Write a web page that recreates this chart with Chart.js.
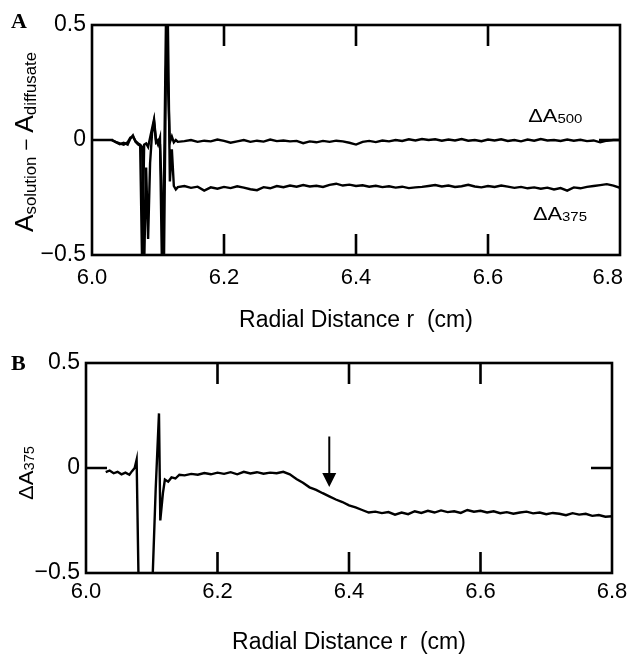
<!DOCTYPE html>
<html>
<head>
<meta charset="utf-8">
<script src="https://cdn.jsdelivr.net/npm/chart.js@4.4.1/dist/chart.umd.min.js"></script>
<style>
  body { margin: 0; background: #fff; }
  #wrap { position: relative; width: 632px; height: 655px; overflow: hidden; }
  canvas { position: absolute; left: 0; }
  #chartA { top: 0; }
  #chartB { top: 340px; }
</style>
</head>
<body>
<div id="wrap">
  <canvas id="chartA" width="632" height="340"></canvas>
  <canvas id="chartB" width="632" height="315"></canvas>
</div>
<script>
// panel A: radial positions (cm) shared by both traces
const rA = [
  6.030, 6.036, 6.042, 6.048, 6.054, 6.058, 6.062, 6.066, 6.070, 6.073,
  6.076, 6.079, 6.082, 6.085, 6.088, 6.091, 6.094, 6.097, 6.100, 6.103,
  6.106, 6.109, 6.112, 6.115, 6.118, 6.121, 6.124, 6.127, 6.130,
  6.14, 6.15, 6.16, 6.17, 6.18, 6.19, 6.20, 6.21, 6.22, 6.23, 6.24, 6.25,
  6.26, 6.27, 6.28, 6.29, 6.30, 6.31, 6.32, 6.33, 6.34, 6.35, 6.36, 6.37,
  6.38, 6.39, 6.40, 6.41, 6.42, 6.43, 6.44, 6.45, 6.46, 6.47, 6.48, 6.49,
  6.50, 6.51, 6.52, 6.53, 6.54, 6.55, 6.56, 6.57, 6.58, 6.59, 6.60, 6.61,
  6.62, 6.63, 6.64, 6.65, 6.66, 6.67, 6.68, 6.69, 6.70, 6.71, 6.72, 6.73,
  6.74, 6.75, 6.76, 6.77, 6.78, 6.79, 6.80
];

const dA500 = [
  0.000, -0.010, -0.018, -0.012, -0.020, 0.005, 0.020, -0.008, -0.020, -0.025,
  -0.550, -0.020, -0.015, -0.030, 0.010, 0.050, 0.090, 0.000, -0.020, 0.010,
  -0.550, -0.200, 0.500, 0.250, -0.010, 0.015, -0.010, 0.000, -0.008,
  -0.005, 0.000, -0.008, -0.003, -0.006, 0.002, -0.004, -0.012, -0.006, 0.000, -0.008, -0.003,
  -0.007, 0.002, -0.005, -0.002, -0.006, -0.004, -0.014, -0.006, -0.010, -0.004, -0.008, -0.003,
  -0.006, -0.012, -0.020, -0.008, -0.004, -0.009, -0.002, -0.006, 0.000, -0.004, 0.003, -0.002,
  0.004, 0.000, 0.003, -0.003, 0.002, -0.002, 0.004, -0.003, 0.000, -0.005, 0.002, -0.002,
  0.003, -0.004, 0.000, -0.006, 0.002, -0.003, 0.004, -0.002, 0.000, -0.004, 0.002, -0.003,
  0.001, -0.005, -0.002, -0.010, -0.003, 0.000, 0.000
];

const dA375 = [
  0.000, -0.008, -0.015, -0.020, -0.010, 0.010, 0.015, -0.005, -0.015, -0.020,
  -0.030, -0.550, -0.120, -0.430, -0.100, 0.030, 0.080, -0.010, 0.000, -0.020,
  -0.250, -0.550, 0.300, 0.500, -0.180, -0.040, -0.200, -0.215, -0.205,
  -0.200, -0.208, -0.203, -0.220, -0.206, -0.212, -0.204, -0.209, -0.201, -0.207, -0.214, -0.218,
  -0.205, -0.210, -0.200, -0.205, -0.198, -0.203, -0.196, -0.202, -0.199, -0.204, -0.195, -0.190,
  -0.198, -0.194, -0.200, -0.197, -0.203, -0.199, -0.205, -0.201, -0.207, -0.203, -0.209, -0.206,
  -0.204, -0.200, -0.196, -0.202, -0.198, -0.204, -0.201, -0.195, -0.202, -0.206, -0.200, -0.204,
  -0.198, -0.203, -0.208, -0.204, -0.210, -0.206, -0.212, -0.207, -0.215, -0.209, -0.220, -0.206,
  -0.210, -0.204, -0.200, -0.196, -0.192, -0.198, -0.208
];

// panel B: radial positions (cm) and the 375 nm difference trace
const rB = [
  6.030, 6.036, 6.042, 6.048, 6.054, 6.060, 6.066, 6.070, 6.074, 6.077,
  6.080, 6.101, 6.106, 6.111, 6.113, 6.117, 6.120, 6.125, 6.130, 6.136, 6.142,
  6.15, 6.16, 6.17, 6.18, 6.19, 6.20, 6.21, 6.22, 6.23, 6.24, 6.25,
  6.26, 6.27, 6.28, 6.29, 6.30, 6.31, 6.32, 6.33, 6.34, 6.35, 6.36, 6.37,
  6.38, 6.39, 6.40, 6.41, 6.42, 6.43, 6.44, 6.45, 6.46, 6.47, 6.48, 6.49,
  6.50, 6.51, 6.52, 6.53, 6.54, 6.55, 6.56, 6.57, 6.58, 6.59, 6.60, 6.61,
  6.62, 6.63, 6.64, 6.65, 6.66, 6.67, 6.68, 6.69, 6.70, 6.71, 6.72, 6.73,
  6.74, 6.75, 6.76, 6.77, 6.78, 6.79, 6.80
];

const dB375 = [
  -0.020, -0.012, -0.025, -0.018, -0.030, -0.022, -0.032, -0.015, 0.000, 0.040,
  -0.550, -0.550, -0.100, 0.260, -0.250, -0.120, -0.055, -0.065, -0.045, -0.050, -0.032,
  -0.035, -0.028, -0.032, -0.024, -0.030, -0.022, -0.028, -0.020, -0.030, -0.018, -0.026,
  -0.020, -0.027, -0.022, -0.025, -0.018, -0.030, -0.052, -0.070, -0.092, -0.104, -0.120, -0.135,
  -0.150, -0.162, -0.178, -0.188, -0.200, -0.212, -0.208, -0.215, -0.210, -0.222, -0.212, -0.220,
  -0.206, -0.214, -0.204, -0.212, -0.202, -0.210, -0.206, -0.214, -0.200, -0.208, -0.204, -0.212,
  -0.206, -0.215, -0.210, -0.218, -0.212, -0.208, -0.216, -0.212, -0.220, -0.214, -0.218, -0.225,
  -0.215, -0.222, -0.218, -0.228, -0.224, -0.232, -0.230
];

const xTickLabels = ["6.0", "6.2", "6.4", "6.6", "6.8"];
const yTickLabels = ["\u22120.5", "0", "0.5"];

const FONT = "'Liberation Sans', Arial, Helvetica, sans-serif";
Chart.defaults.font.family = FONT;
Chart.defaults.color = "#000";

// text with small subscripts, optionally rotated to read bottom-to-top
function drawParts(ctx, parts, x, y, rotated, stretch) {
  ctx.save();
  ctx.translate(x, y);
  if (rotated) ctx.rotate(-Math.PI / 2);
  ctx.scale(stretch || 1, 1);
  ctx.fillStyle = "#000";
  ctx.textBaseline = "alphabetic";
  ctx.textAlign = "left";
  let w = 0;
  for (const [t, size] of parts) {
    ctx.font = `${size}px ${FONT}`;
    w += ctx.measureText(t).width;
  }
  let cx = rotated ? -w / 2 : 0;
  for (const [t, size, drop] of parts) {
    ctx.font = `${size}px ${FONT}`;
    ctx.fillText(t, cx, drop);
    cx += ctx.measureText(t).width;
  }
  ctx.restore();
}

const frame = {
  id: "frame",
  afterDatasetsDraw(chart, args, opts) {
    const { ctx, chartArea: a, scales: { x, y } } = chart;
    ctx.save();
    ctx.strokeStyle = "#000";
    ctx.lineWidth = 2.6;
    ctx.strokeRect(a.left, a.top, a.right - a.left, a.bottom - a.top);

    // inward tick marks
    ctx.beginPath();
    for (const v of [6.2, 6.4, 6.6]) {
      const px = x.getPixelForValue(v);
      ctx.moveTo(px, a.top);
      ctx.lineTo(px, a.top + 21);
      ctx.moveTo(px, a.bottom);
      ctx.lineTo(px, a.bottom - 21);
    }
    const py = y.getPixelForValue(0);
    ctx.moveTo(a.left, py);
    ctx.lineTo(a.left + 21, py);
    ctx.moveTo(a.right, py);
    ctx.lineTo(a.right - 21, py);
    ctx.stroke();

    // panel letter
    ctx.fillStyle = "#000";
    ctx.font = "bold 22px 'Liberation Serif', 'Times New Roman', serif";
    ctx.textBaseline = "alphabetic";
    ctx.fillText(opts.letter, 11, opts.letterY);

    // y axis title
    drawParts(ctx, opts.yTitle, opts.yTitleX, py + opts.yTitleDy, true, 1.05);

    // trace labels
    for (const lab of opts.labels) {
      drawParts(ctx, lab.parts, x.getPixelForValue(lab.r), y.getPixelForValue(lab.v), false, 1.15);
    }

    // arrow
    if (opts.arrow) {
      const ax = x.getPixelForValue(opts.arrow.r);
      const top = y.getPixelForValue(opts.arrow.from);
      const tip = y.getPixelForValue(opts.arrow.to);
      ctx.lineWidth = 2;
      ctx.beginPath();
      ctx.moveTo(ax, top);
      ctx.lineTo(ax, tip - 10);
      ctx.stroke();
      ctx.beginPath();
      ctx.moveTo(ax - 7, tip - 14);
      ctx.lineTo(ax + 7, tip - 14);
      ctx.lineTo(ax, tip);
      ctx.closePath();
      ctx.fill();
    }
    ctx.restore();
  }
};

function tickX(v) {
  return xTickLabels[Math.round((v - 6.0) / 0.2)];
}

function tickY(v) {
  return yTickLabels[Math.round((v + 0.5) / 0.5)];
}

function makePanel(id, datasets, p) {
  return new Chart(document.getElementById(id), {
    type: "line",
    data: { datasets },
    options: {
      responsive: false,
      animation: false,
      events: [],
      layout: { padding: p.padding },
      plugins: {
        legend: { display: false },
        tooltip: { enabled: false },
        frame: p.frame
      },
      scales: {
        x: {
          type: "linear",
          min: 6.0,
          max: 6.8,
          grid: { display: false, drawTicks: false },
          border: { display: false },
          ticks: {
            stepSize: 0.2,
            padding: p.xTickPad,
            maxRotation: 0,
            font: { size: 22 },
            callback: p.xTick || tickX
          },
          title: {
            display: true,
            text: "Radial Distance r  (cm)",
            font: { size: 23, lineHeight: 1 },
            padding: 0
          },
          afterFit: (s) => {
            s.height = p.xHeight;
            s.paddingLeft = 0;
            s.paddingRight = 0;
          }
        },
        y: {
          min: -0.5,
          max: 0.5,
          grid: { display: false, drawTicks: false },
          border: { display: false },
          ticks: {
            stepSize: 0.5,
            padding: 6,
            font: { size: 23 },
            callback: tickY
          },
          afterFit: (s) => {
            s.width = p.yWidth;
          }
        }
      }
    },
    plugins: [frame]
  });
}

const line = { borderColor: "#000", borderWidth: 2.4, pointRadius: 0, tension: 0, fill: false };

makePanel("chartA", [
  { ...line, label: "\u0394A500", data: rA.map((r, i) => ({ x: r, y: dA500[i] })) },
  { ...line, label: "\u0394A375", data: rA.map((r, i) => ({ x: r, y: dA375[i] })) }
], {
  padding: { left: 0, top: 25, right: 12, bottom: 8 },
  xHeight: 77,
  yWidth: 92,
  xTickPad: 10,
  // last label nudged left as in the original
  xTick: (v) => {
    const s = tickX(v);
    return s === "6.8" ? s + "\u2007\u2007" : s;
  },
  frame: {
    letter: "A",
    letterY: 28,
    yTitle: [["A", 25, 0], ["solution", 16, 3], [" \u2212 ", 20, 0], ["A", 25, 0], ["diffusate", 16, 3]],
    yTitleX: 33,
    yTitleDy: 2,
    labels: [
      { parts: [["\u0394A", 19, 0], ["500", 13, 1]], r: 6.661, v: 0.078 },
      { parts: [["\u0394A", 19, 0], ["375", 13, 1]], r: 6.668, v: -0.348 }
    ]
  }
});

makePanel("chartB", [
  { ...line, label: "\u0394A375", data: rB.map((r, i) => ({ x: r, y: dB375[i] })) }
], {
  padding: { left: 0, top: 23, right: 20, bottom: 1 },
  xHeight: 81,
  yWidth: 86,
  xTickPad: 6,
  frame: {
    letter: "B",
    letterY: 30,
    yTitle: [["\u0394A", 21, 0], ["375", 14, 1]],
    yTitleX: 33,
    yTitleDy: 5,
    labels: [],
    arrow: { r: 6.37, from: 0.15, to: -0.09 }
  }
});
</script>
</body>
</html>
